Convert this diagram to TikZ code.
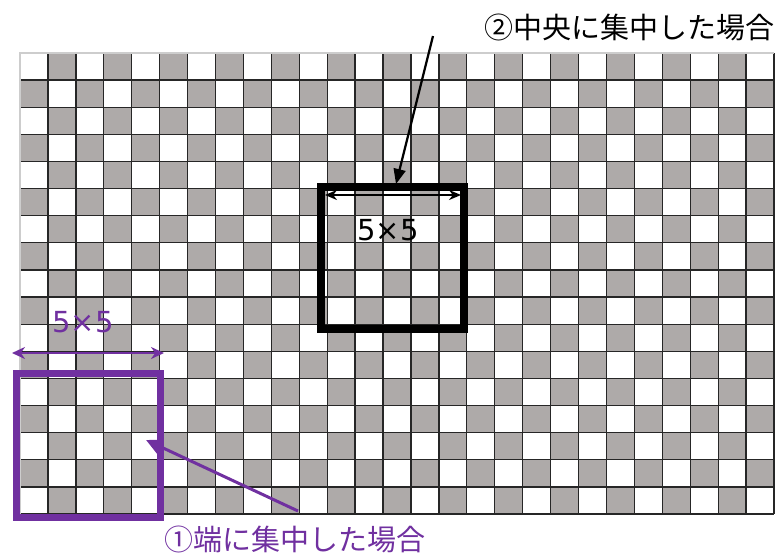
\documentclass[tikz,border=0pt]{standalone}
\usepackage{fontspec}
\setmainfont{Noto Sans CJK JP}
\newfontfamily\dimfont{DejaVu Sans}
\usetikzlibrary{arrows.meta}
\definecolor{cellgray}{RGB}{174,170,169}
\definecolor{offpurple}{RGB}{112,48,160}
\definecolor{edgegray}{RGB}{205,205,205}
\tikzset{
  gridline/.style={black!85, line width=1.3pt},
  blackbox/.style={draw=black, line width=8pt, inner sep=0pt},
  purplebox/.style={draw=offpurple, line width=7pt, inner sep=0pt},
  lbl/.style={font=\fontsize{29}{32}\selectfont, inner sep=0pt},
  dimlbl/.style={font=\dimfont\fontsize{29}{32}\selectfont, inner sep=0pt},
}
\begin{document}
\begin{tikzpicture}[x=1pt,y=-1pt]
\useasboundingbox (0,0) rectangle (782,555);
\pgfmathsetmacro{\cw}{754/27}
\pgfmathsetmacro{\ch}{461/17}
% cells
\foreach \i in {0,...,26}{
  \foreach \j in {0,...,16}{
    \pgfmathtruncatemacro{\pty}{mod(\i+\j,2)}
    \ifnum\pty=1
      \fill[cellgray] ({20+\i*\cw},{53+\j*\ch}) rectangle ({20+(\i+1)*\cw},{53+(\j+1)*\ch});
    \fi
  }
}
% grid lines
\foreach \i in {1,...,27}{
  \draw[gridline] ({20+\i*\cw},53) -- ({20+\i*\cw},514);
}
\foreach \j in {1,...,17}{
  \draw[gridline] (20,{53+\j*\ch}) -- (774,{53+\j*\ch});
}
\draw[edgegray, line width=1.4pt] (20,514) -- (20,53) -- (774,53);
% boxes
\node[blackbox, minimum width=143pt, minimum height=142pt] (cbox) at (392.5,258) {};
\node[purplebox, minimum width=143.5pt, minimum height=144pt] (ebox) at (88.25,445) {};
% dimension arrows
\coordinate (cl) at (325,195);
\coordinate (cr) at (461,195);
\draw[black, line width=2pt, {Stealth[length=12pt,width=10pt]}-{Stealth[length=12pt,width=10pt]}] (cl) -- (cr);
\node[dimlbl, text=black] (clbl) at (388,230) {5×5};
\coordinate (pl) at (12,353);
\coordinate (pr) at (164,353);
\draw[offpurple, line width=2.8pt, {Stealth[length=13pt,width=12pt]}-{Stealth[length=13pt,width=12pt]}] (pl) -- (pr);
\node[dimlbl, text=offpurple] (plbl) at (83,322) {5×5};
% titles
\node[lbl, text=black] (t2) at (629,27) {②中央に集中した場合};
\node[lbl, text=offpurple] (t1) at (295,539) {①端に集中した場合};
% pointer arrows
\coordinate (a2s) at (433,36);
\coordinate (a2e) at (396,184);
\draw[black, line width=2.2pt, -{Triangle[length=15pt,width=12pt]}] (a2s) -- (a2e);
\coordinate (a1s) at (298,511);
\coordinate (a1e) at (146,440);
\draw[offpurple, line width=3pt, -{Triangle[length=16pt,width=15pt]}] (a1s) -- (a1e);
\end{tikzpicture}
\end{document}
